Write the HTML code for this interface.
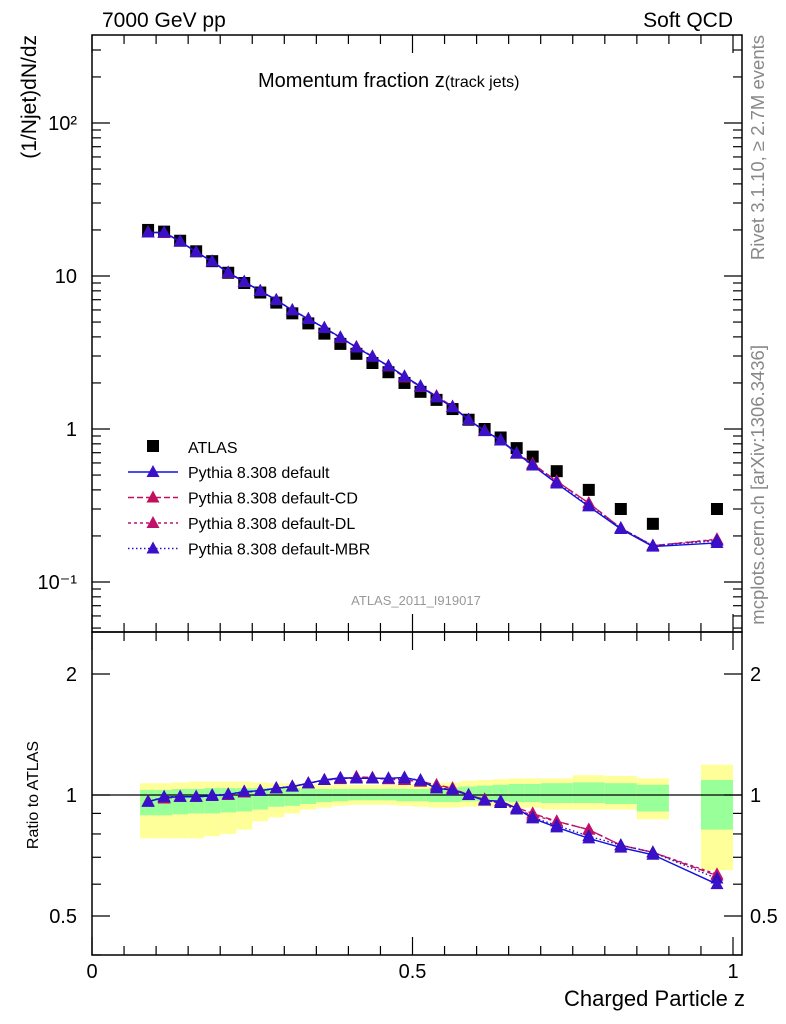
<!DOCTYPE html>
<html><head><meta charset="utf-8"><style>
body{margin:0;background:#fff;}
svg{display:block;font-family:"Liberation Sans",sans-serif;}
</style></head><body>
<svg id="c" width="786" height="1024"></svg>
<script>
const binLo=[0.075,0.1,0.125,0.15,0.175,0.2,0.225,0.25,0.275,0.3,0.325,0.35,0.375,0.4,0.425,0.45,0.475,0.5,0.525,0.55,0.575,0.6,0.625,0.65,0.675,0.7,0.75,0.8,0.85,0.95];
const binHi=[0.1,0.125,0.15,0.175,0.2,0.225,0.25,0.275,0.3,0.325,0.35,0.375,0.4,0.425,0.45,0.475,0.5,0.525,0.55,0.575,0.6,0.625,0.65,0.675,0.7,0.75,0.8,0.85,0.9,1.0];
const dataVals=[20,19.5,17,14.5,12.5,10.5,9.0,7.8,6.7,5.7,4.9,4.2,3.6,3.1,2.7,2.35,2.0,1.75,1.55,1.35,1.15,1.0,0.88,0.75,0.66,0.53,0.40,0.30,0.24,0.30];
const yelHi=[1.07,1.07,1.075,1.08,1.08,1.08,1.08,1.075,1.07,1.07,1.065,1.06,1.06,1.06,1.06,1.06,1.06,1.065,1.07,1.075,1.085,1.09,1.095,1.10,1.10,1.10,1.12,1.115,1.10,1.19];
const yelLo=[0.78,0.78,0.78,0.78,0.79,0.80,0.82,0.86,0.88,0.90,0.92,0.93,0.94,0.945,0.945,0.945,0.94,0.935,0.93,0.93,0.935,0.935,0.935,0.93,0.93,0.92,0.92,0.92,0.87,0.65];
const grnHi=[1.03,1.03,1.035,1.035,1.04,1.04,1.04,1.04,1.04,1.04,1.035,1.035,1.035,1.035,1.035,1.035,1.035,1.035,1.04,1.045,1.05,1.055,1.06,1.065,1.065,1.07,1.075,1.07,1.06,1.09];
const grnLo=[0.89,0.89,0.895,0.90,0.90,0.905,0.91,0.92,0.935,0.94,0.95,0.96,0.965,0.97,0.97,0.97,0.965,0.965,0.96,0.96,0.965,0.965,0.965,0.96,0.96,0.955,0.955,0.95,0.91,0.82];
const ratioDefault=[0.962,0.987,0.99,0.99,0.995,1.004,1.019,1.025,1.039,1.049,1.069,1.09,1.104,1.10,1.10,1.10,1.106,1.085,1.039,1.029,1.0,0.968,0.966,0.927,0.875,0.831,0.78,0.74,0.71,0.60];
const ratioCD=[0.965,0.98,0.99,0.99,0.995,1.0,1.015,1.025,1.04,1.05,1.07,1.09,1.095,1.11,1.105,1.095,1.09,1.08,1.06,1.04,1.0,0.975,0.955,0.93,0.90,0.86,0.82,0.75,0.72,0.63];
const ratioDL=[0.965,0.985,0.99,0.99,0.995,1.0,1.015,1.025,1.04,1.05,1.07,1.09,1.10,1.105,1.10,1.095,1.09,1.08,1.055,1.035,1.0,0.975,0.96,0.92,0.89,0.86,0.82,0.75,0.72,0.635];
const ratioMBR=[0.962,0.99,0.99,0.99,1.0,1.004,1.02,1.025,1.04,1.05,1.07,1.09,1.10,1.10,1.10,1.10,1.10,1.09,1.045,1.03,1.0,0.97,0.955,0.92,0.88,0.84,0.79,0.75,0.72,0.62];
const mainTicks=["10²","10","1","10⁻¹"];

const svg=document.getElementById('c');
const NS='http://www.w3.org/2000/svg';
const X0=92,X1=742,Y0=35,YM=632,YB=955;
const xs=z=>92+641*z;
const ym=v=>429-153*Math.log10(v);
const yr=r=>795-402*Math.log10(r);
function el(t,a,name,p){const e=document.createElementNS(NS,t);for(const k in a)e.setAttribute(k,a[k]);


(p||svg).appendChild(e);return e;}
function txt(x,y,s,name,o){const a=Object.assign({x:x,y:y,'font-size':20,fill:'#000'},o||{});const e=el('text',a,name);e.textContent=s;return e;}

const gb=el('g',{},'ratio-bands');
binLo.forEach((lo,i)=>{
 el('rect',{x:xs(lo),y:yr(yelHi[i]),width:xs(binHi[i])-xs(lo),height:yr(yelLo[i])-yr(yelHi[i]),fill:'#ffff99'},'yellow-band',gb);
 el('rect',{x:xs(lo),y:yr(grnHi[i]),width:xs(binHi[i])-xs(lo),height:yr(grnLo[i])-yr(grnHi[i]),fill:'#99ff99'},'green-band',gb);
});
el('line',{x1:X0,x2:X1,y1:yr(1),y2:yr(1),stroke:'#000','stroke-width':1.2},'ratio-unity-line');

el('rect',{x:X0,y:Y0,width:X1-X0,height:YM-Y0,fill:'none',stroke:'#000','stroke-width':1.5},'main-frame');
el('rect',{x:X0,y:YM,width:X1-X0,height:YB-YM,fill:'none',stroke:'#000','stroke-width':1.5},'ratio-frame');

for(let d=-2;d<=3;d++)for(let m=1;m<10;m++){const v=m*Math.pow(10,d);const y=ym(v);if(y<Y0||y>YM)continue;const L=m==1?18:9;
 el('line',{x1:X0,x2:X0+L,y1:y,y2:y,stroke:'#000','stroke-width':1.2},'y-tick');
 el('line',{x1:X1-L,x2:X1,y1:y,y2:y,stroke:'#000','stroke-width':1.2},'y-tick-right');}
[100,10,1,0.1].forEach((v,i)=>txt(77,ym(v)+7,mainTicks[i],'y-tick-label',{'text-anchor':'end'}));
[0.4,0.5,0.6,0.7,0.8,0.9,1,2].forEach(v=>{const y=yr(v);const L=(v==0.5||v==1||v==2)?18:9;
 el('line',{x1:X0,x2:X0+L,y1:y,y2:y,stroke:'#000','stroke-width':1.2},'ratio-tick');
 el('line',{x1:X1-L,x2:X1,y1:y,y2:y,stroke:'#000','stroke-width':1.2},'ratio-tick-right');});
[[2,'2'],[1,'1'],[0.5,'0.5']].forEach(a=>{txt(77,yr(a[0])+7,a[1],'ratio-tick-label',{'text-anchor':'end'});txt(750,yr(a[0])+7,a[1],'ratio-tick-label-right');});
for(let i=0;i<=20;i++){const z=i*0.05;const x=xs(z);const L=i%10==0?18:9;
 [[Y0,Y0+L],[YM-L,YM],[YM,YM+L],[YB-L,YB]].forEach(p=>el('line',{x1:x,x2:x,y1:p[0],y2:p[1],stroke:'#000','stroke-width':1.2},'x-tick'));}
[[0,'0'],[0.5,'0.5'],[1,'1']].forEach(a=>txt(xs(a[0]),978,a[1],'x-tick-label',{'text-anchor':'middle'}));

const centers=binLo.map((l,i)=>(l+binHi[i])/2);
const series=[[ratioCD,'#c0105a','6,3','pythia-cd'],[ratioDL,'#c0106a','3,3','pythia-dl'],[ratioMBR,'#3010c0','1.5,2.5','pythia-mbr'],[ratioDefault,'#1010e0','','pythia-default']];
function tri(x,y,c,name,g){el('path',{d:`M${x},${y-7}L${x+6.5},${y+5}L${x-6.5},${y+5}Z`,fill:c},name,g);}
const gd=el('g',{},'atlas-data');
centers.forEach((z,i)=>el('rect',{x:xs(z)-6,y:ym(dataVals[i])-6,width:12,height:12,fill:'#000'},'atlas-point',gd));
series.forEach(s=>{
 const g=el('g',{},s[3]+'-series');
 const pm=centers.map((z,i)=>xs(z)+','+ym(dataVals[i]*s[0][i])).join(' ');
 const pr=centers.map((z,i)=>xs(z)+','+yr(s[0][i])).join(' ');
 el('polyline',{points:pm,fill:'none',stroke:s[1],'stroke-width':1.4,'stroke-dasharray':s[2]},s[3]+'-line',g);
 el('polyline',{points:pr,fill:'none',stroke:s[1],'stroke-width':1.4,'stroke-dasharray':s[2]},s[3]+'-ratio-line',g);
 const c=s[1]=='#1010e0'?'#3a10c8':s[1];
 centers.forEach((z,i)=>{tri(xs(z),ym(dataVals[i]*s[0][i]),c,s[3]+'-point',g);tri(xs(z),yr(s[0][i]),c,s[3]+'-ratio-point',g);});
});

const lg=el('g',{},'legend');
el('rect',{x:147,y:440,width:12,height:12,fill:'#000'},'legend-marker-atlas',lg);
txt(188,453,'ATLAS','legend-label',{'font-size':16});
const ln=[['Pythia 8.308 default','#1010e0','','#3a10c8'],['Pythia 8.308 default-CD','#c0105a','6,3','#c0105a'],['Pythia 8.308 default-DL','#c0106a','3,3','#c0106a'],['Pythia 8.308 default-MBR','#3010c0','1.5,2.5','#3a10c8']];
ln.forEach((l,i)=>{const y=472+i*25.5;
 el('line',{x1:128,x2:178,y1:y,y2:y,stroke:l[1],'stroke-width':1.4,'stroke-dasharray':l[2]},'legend-line',lg);
 tri(153,y,l[3],'legend-marker',lg);
 txt(188,y+6,l[0],'legend-label',{'font-size':16});});

txt(102,27,'7000 GeV pp','energy-label',{'font-size':21});
txt(733,27,'Soft QCD','process-label',{'font-size':21,'text-anchor':'end'});
const t=txt(258,87,'Momentum fraction z','plot-title',{'font-size':20});
const ts=document.createElementNS(NS,'tspan');ts.setAttribute('font-size','16');ts.textContent='(track jets)';t.appendChild(ts);
txt(416,605,'ATLAS_2011_I919017','analysis-id',{'font-size':13,fill:'#999','text-anchor':'middle'});
txt(745,1006,'Charged Particle z','x-axis-title',{'font-size':22,'text-anchor':'end'});
txt(0,0,'(1/Njet)dN/dz','y-axis-title',{'font-size':21,'text-anchor':'end',transform:'translate(36,35) rotate(-90)'});
txt(0,0,'Ratio to ATLAS','ratio-axis-title',{'font-size':16,'text-anchor':'middle',transform:'translate(38,795) rotate(-90)'});
txt(0,0,'Rivet 3.1.10, ≥ 2.7M events','rivet-label',{'font-size':18.5,fill:'#888','text-anchor':'end',transform:'translate(764,35) rotate(-90)'});
txt(0,0,'mcplots.cern.ch [arXiv:1306.3436]','mcplots-label',{'font-size':18.5,fill:'#888','text-anchor':'end',transform:'translate(764,345) rotate(-90)'});
</script>
</body></html>
